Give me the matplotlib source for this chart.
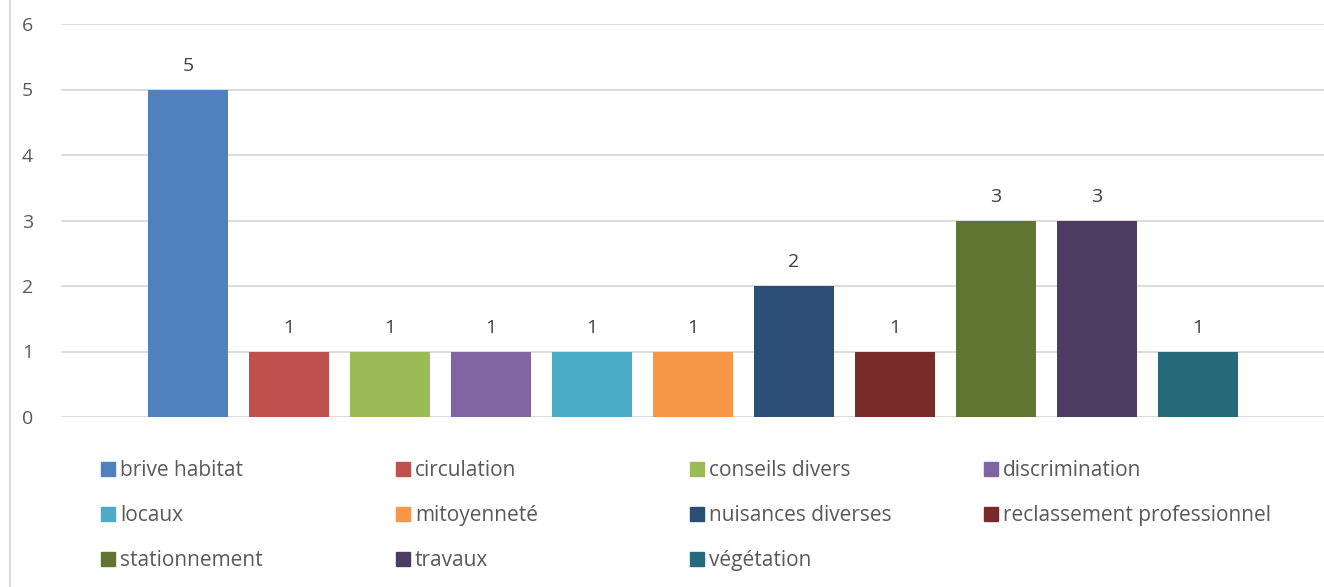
import numpy as np
import matplotlib
matplotlib.use("Agg")
import matplotlib.pyplot as plt
from matplotlib.patches import Rectangle
from matplotlib.lines import Line2D

categories = ["brive habitat", "circulation", "conseils divers", "discrimination",
              "locaux", "mitoyenneté", "nuisances diverses", "reclassement professionnel",
              "stationnement", "travaux", "végétation"]
values = [5, 1, 1, 1, 1, 1, 2, 1, 3, 3, 1]
colors = ["#4F81BD", "#C0504D", "#9BBB59", "#8064A2", "#4BACC6", "#F79646",
          "#2C4D75", "#772C2A", "#5F7530", "#4D3B62", "#276A7C"]

plt.rcParams['font.family'] = ['Open Sans', 'DejaVu Sans']
txt = "#595959"
W, H = 1324, 587

fig = plt.figure(figsize=(W/100, H/100), dpi=100)
ax = fig.add_axes([61/W, (H-417)/H, (W-61)/W, (417-24)/H])

x = np.arange(len(values))
bars = ax.bar(x, values, width=80/101, color=colors, zorder=3)
for b, v in zip(bars, values):
    ax.text(b.get_x() + b.get_width()/2, v + 0.29, str(v), ha='center', va='baseline',
            fontsize=14, color="#404040")

ax.set_ylim(0, 6)
ax.set_xlim(-127/101, 10 + (W-1198)/101)
ax.set_yticks(range(7))
ax.set_xticks([])
ax.yaxis.grid(True, color="#D9D9D9", linewidth=1.3, zorder=0)
for s in ax.spines.values():
    s.set_visible(False)
ax.tick_params(axis='y', length=0, pad=20, labelsize=14, labelcolor=txt)

# legend, laid out like the Excel one
col_x = [101, 396, 690, 984]
row_y = [469, 514, 559]
for i, (name, c) in enumerate(zip(categories, colors)):
    r, k = divmod(i, 4)
    px, py = col_x[k], row_y[r]
    fig.add_artist(Rectangle((px/W, (H-py-7)/H), 14/W, 14/H, color=c,
                             transform=fig.transFigure))
    fig.text((px+19)/W, (H-py-7)/H, name, ha='left', va='baseline',
             fontsize=15, color=txt)

# chart border on the left
fig.add_artist(Line2D([10/W, 10/W], [0, 1], color="#D9D9D9", linewidth=1.3,
                      transform=fig.transFigure))

fig.savefig("out.png", dpi=100)
